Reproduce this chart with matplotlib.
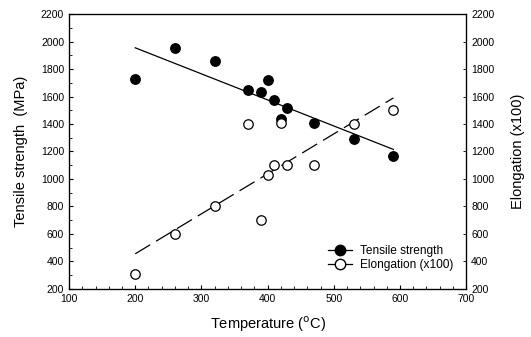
import matplotlib
matplotlib.use("Agg")
import matplotlib.pyplot as plt
from matplotlib.ticker import MultipleLocator
from matplotlib.lines import Line2D

plt.rcParams['font.family'] = ['Liberation Sans', 'DejaVu Sans']

# Data
temp_ts = [200, 260, 320, 370, 390, 400, 410, 420, 430, 470, 530, 590]
tensile = [1730, 1950, 1860, 1650, 1630, 1720, 1575, 1440, 1515, 1405, 1290, 1165]
temp_el = [200, 260, 320, 370, 390, 400, 410, 420, 430, 470, 530, 590]
elong = [305, 600, 800, 1400, 700, 1030, 1100, 1410, 1100, 1100, 1400, 1500]
fit_x = [200, 590]
tensile_fit = [1955, 1215]
elong_fit = [455, 1590]

fig = plt.figure(figsize=(5.31, 3.37), dpi=100)
ax = fig.add_axes([0.130, 0.143, 0.748, 0.815])

ax.plot(fit_x, tensile_fit, color='black', lw=0.9, zorder=2)
ax.plot(fit_x, elong_fit, color='black', lw=0.9, dashes=(14, 5.5), zorder=2)
ax.plot(temp_ts, tensile, 'o', ms=6.8, mfc='black', mec='black', zorder=3)
ax.plot(temp_el, elong, 'o', ms=6.8, mfc='white', mec='black', mew=0.9, zorder=4)

ax.set_xlim(100, 700)
ax.set_ylim(200, 2200)
ax.xaxis.set_major_locator(MultipleLocator(100))
ax.xaxis.set_minor_locator(MultipleLocator(20))
ax.yaxis.set_major_locator(MultipleLocator(200))
ax.yaxis.set_minor_locator(MultipleLocator(100))
ax.tick_params(which='both', direction='in', labelsize=7.5, top=False, right=False)
ax.tick_params(which='major', length=3, width=0.8)
ax.tick_params(which='minor', length=2, width=0.6)
for s in ax.spines.values():
    s.set_linewidth(0.9)

ax.set_xlabel('Temperature ($^{\\mathrm{o}}$C)', fontsize=10.5, labelpad=8)
ax.set_ylabel('Tensile strength  (MPa)', fontsize=10.5, labelpad=9)

ax2 = ax.twinx()
ax2.set_ylim(200, 2200)
ax2.yaxis.set_major_locator(MultipleLocator(200))
ax2.tick_params(which='both', direction='in', labelsize=7.5, length=2, width=0.6)
ax2.set_ylabel('Elongation (x100)', fontsize=10.5, labelpad=12)

handles = [
    Line2D([], [], color='black', lw=0.9, marker='o', ms=7.5, mfc='black', mec='black'),
    Line2D([], [], color='black', lw=0.9, marker='o', ms=7.5, mfc='white', mec='black'),
]
ax.legend(handles, ['Tensile strength', 'Elongation (x100)'], loc='lower right',
          bbox_to_anchor=(0.995, 0.025), frameon=False, fontsize=8.6,
          handlelength=2.0, handletextpad=0.7, labelspacing=0.15)

fig.savefig('out.png', dpi=100)
